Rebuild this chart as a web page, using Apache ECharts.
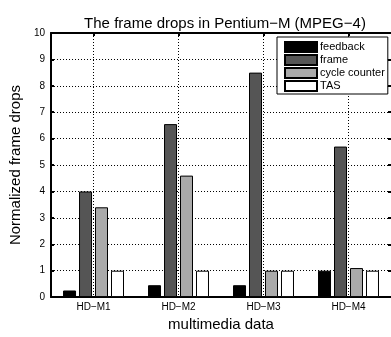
<!DOCTYPE html>
<html>
<head>
<meta charset="utf-8">
<script src="https://cdn.jsdelivr.net/npm/echarts@6/dist/echarts.min.js"></script>
<style>
html,body{margin:0;padding:0;background:#fff;}
#framedrops{width:391px;height:337px;}
</style>
</head>
<body>
<div id="framedrops"></div>
<script>
// 数据
var categories = ['HD\u2212M1', 'HD\u2212M2', 'HD\u2212M3', 'HD\u2212M4'];
var feedback = [0.25, 0.45, 0.45, 1.0];
var frame = [4.0, 6.55, 8.5, 5.7];
var cycleCounter = [3.4, 4.6, 1.0, 1.1];
var tas = [1.0, 1.0, 1.0, 1.0];
var yTicks = [0, 1, 2, 3, 4, 5, 6, 7, 8, 9, 10];

(function(){

var chart = echarts.init(document.getElementById("framedrops"));
var font = 'Liberation Sans, Arial, sans-serif';
var dots = {color: '#000', width: 1, type: [1, 2]};

// 辅助轴：半格刻度，只在类目中心画网格线
var halfTicks = [];
for (var i = 0; i <= categories.length * 2; i++) halfTicks.push(String(i));
var atCenter = function (idx) { return idx % 2 === 1; };

function bar(name, data, color) {
    return {
        name: name,
        type: 'bar',
        data: data,
        barWidth: 13,
        barGap: '23%',
        itemStyle: {color: color, borderColor: '#000', borderWidth: 1}
    };
}

option = {
    animation: false,
    textStyle: {fontFamily: font},
    title: {
        text: 'The frame drops in Pentium\u2212M (MPEG\u22124)',
        left: 220,
        textAlign: 'center',
        top: 11,
        textStyle: {fontSize: 15, fontWeight: 'normal', color: '#000', fontFamily: font}
    },
    legend: {
        orient: 'vertical',
        left: 277,
        top: 37,
        icon: 'rect',
        itemWidth: 32,
        itemHeight: 10,
        itemGap: 1,
        padding: [4, 3, 2, 7],
        borderColor: '#000',
        borderWidth: 1,
        backgroundColor: '#fff',
        textStyle: {fontSize: 11, lineHeight: 12, color: '#000', fontFamily: font, padding: [0, 0, 0, -2]},
        data: ['feedback', 'frame', 'cycle counter', 'TAS']
    },
    grid: {left: 48, right: 0, top: 33, bottom: 35},
    xAxis: [
        {
            type: 'category',
            data: categories,
            name: 'multimedia data',
            nameLocation: 'middle',
            nameGap: 17,
            nameTextStyle: {fontSize: 15, color: '#000', fontFamily: font},
            axisLine: {lineStyle: {color: '#000', width: 2}},
            axisTick: {show: false},
            axisLabel: {fontSize: 10, color: '#000', margin: 5, fontFamily: font},
            splitLine: {show: false}
        },
        {
            type: 'category',
            data: halfTicks,
            boundaryGap: false,
            position: 'bottom',
            axisLine: {show: false},
            axisTick: {show: false},
            axisLabel: {show: false},
            splitLine: {show: true, interval: atCenter, lineStyle: dots}
        },
        {
            type: 'category',
            data: halfTicks,
            boundaryGap: false,
            position: 'top',
            axisLine: {lineStyle: {color: '#000', width: 2}},
            axisTick: {show: true, inside: true, length: 3, interval: atCenter, lineStyle: {color: '#000', width: 2}},
            axisLabel: {show: false},
            splitLine: {show: false}
        }
    ],
    yAxis: [
        {
            type: 'value',
            min: yTicks[0],
            max: yTicks[yTicks.length - 1],
            interval: 1,
            name: 'Normalized frame drops',
            nameLocation: 'middle',
            nameGap: 14,
            nameTextStyle: {fontSize: 15, color: '#000', fontFamily: font},
            axisLine: {show: true, lineStyle: {color: '#000', width: 2}},
            axisTick: {show: true, inside: true, length: 3, lineStyle: {color: '#000', width: 2}},
            axisLabel: {fontSize: 10, color: '#000', margin: 6, fontFamily: font},
            splitLine: {show: true, lineStyle: dots}
        },
        {
            type: 'value',
            min: yTicks[0],
            max: yTicks[yTicks.length - 1],
            interval: 1,
            position: 'right',
            axisLine: {show: false},
            axisTick: {show: true, inside: true, length: 3, lineStyle: {color: '#000', width: 2}},
            axisLabel: {show: false},
            splitLine: {show: false}
        }
    ],
    series: [
        bar('feedback', feedback, '#000000'),
        bar('frame', frame, '#555555'),
        bar('cycle counter', cycleCounter, '#aaaaaa'),
        bar('TAS', tas, '#ffffff')
    ]
};

chart.setOption(option);
})();
</script>
</body>
</html>
